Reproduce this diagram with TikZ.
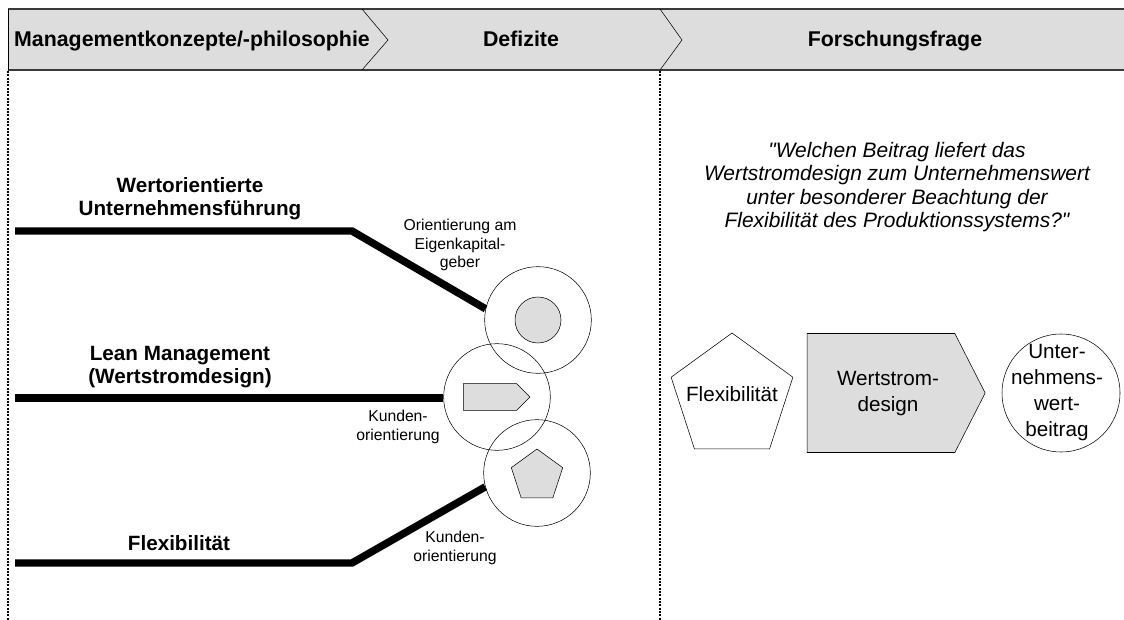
\documentclass[tikz,border=0pt]{standalone}
\usepackage{fontspec}
\setmainfont{Liberation Sans}[Ligatures=TeXOff]
\usetikzlibrary{shapes.geometric}
\usetikzlibrary{shapes.symbols}

\definecolor{hellgrau}{HTML}{DDDDDD}
\definecolor{randgrau}{HTML}{3A3A3A}

\tikzset{
  kopftext/.style={font=\fontsize{16pt}{18pt}\selectfont\bfseries,anchor=base},
  fetttext/.style={font=\fontsize{15.5pt}{17pt}\selectfont\bfseries,align=center},
  normtext/.style={font=\fontsize{15.5pt}{19.5pt}\selectfont,align=center,inner sep=0pt},
  kleintext/.style={font=\fontsize{11.8pt}{14pt}\selectfont,align=center},
  fragetext/.style={font=\fontsize{15.7pt}{17.5pt}\selectfont\itshape,align=center},
  balken/.style={line width=5.6pt},
  trenn/.style={densely dotted,line width=1.5pt},
  kreis/.style={draw,circle,minimum size=80pt,inner sep=0pt},
  grau/.style={draw,fill=hellgrau,inner sep=0pt}
}

\begin{document}
\begin{tikzpicture}[x=0.75pt,y=-0.75pt]
  \useasboundingbox (0,0) rectangle (1124,620);

  \fill[hellgrau] (8,9) rectangle (1124,70);
  \draw[randgrau,line width=1pt] (8,9) -- (1124,9) (8,70) -- (1124,70);
  \draw (8,9) -- (8,70);
  \draw (362,9) -- (388,40) -- (362,70);
  \draw (660,9) -- (682,40) -- (660,70);
  \node[kopftext] (kopf1) at (192,47) {Managementkonzepte/-philosophie};
  \node[kopftext] (kopf2) at (521,47) {Defizite};
  \node[kopftext] (kopf3) at (895,47) {Forschungsfrage};

  \draw[trenn] (8,71) -- (8,620);
  \draw[trenn] (660,71) -- (660,620);

  \node[fetttext] (wert) at (190,199) {Wertorientierte\\Unternehmensführung};
  \node[fetttext] (lean) at (180,367) {Lean Management\\(Wertstromdesign)};
  \node[fetttext] (flex) at (179,543) {Flexibilität};

  \node[kreis] (kreis1) at (538,320) {};
  \node[kreis] (kreis2) at (497,397) {};
  \node[kreis] (kreis3) at (537,473) {};
  \node[grau,circle,minimum size=34.5pt] (innen1) at (kreis1.center) {};
  \node[grau,signal,signal to=east,signal pointer angle=90,
        minimum width=50pt,minimum height=20pt,xshift=-5.25pt] (innen2) at (kreis2.center) {};
  \node[grau,regular polygon,regular polygon sides=5,minimum size=40.5pt]
        (innen3) at (537,476) {};

  \coordinate (start1) at (15,231);
  \coordinate (knick1) at (352,231);
  \coordinate (start2) at (15,398);
  \coordinate (start3) at (15,563);
  \coordinate (knick3) at (352,563);
  \draw[balken] (start1) -- (knick1) -- (kreis1.168);
  \draw[balken] (start2) -- (kreis2.west |- start2);
  \draw[balken] (start3) -- (knick3) -- (kreis3.195);

  \node[kleintext] (eigen) at (460,245) {Orientierung am\\Eigenkapital-\\geber};
  \node[kleintext] (kunde2) at (398,427) {Kunden-\\orientierung};
  \node[kleintext] (kunde3) at (455,548) {Kunden-\\orientierung};

  \node[fragetext] (frage) at (897,187) {"Welchen Beitrag liefert das\\Wertstromdesign zum Unternehmenswert\\unter besonderer Beachtung der\\Flexibilität des Produktionssystems?"};

  \node[draw,regular polygon,regular polygon sides=5,minimum size=96pt,
        inner sep=0pt] (flexi) at (732,397) {};
  \node[normtext] (flexitext) at (732,394) {Flexibilität};
  \node[grau,signal,signal to=east,signal pointer angle=126,
        minimum width=133.5pt,minimum height=89.25pt] (wsd) at (881,393) {};
  \node[normtext] (wsdtext) at (888,394) {Wertstrom-\\design};
  \node[kreis,minimum size=88.5pt] (beitrag) at (1061,393) {};
  \node[normtext] (beitragtext) at (1057,393) {Unter-\\nehmens-\\wert-\\beitrag};
\end{tikzpicture}
\end{document}
